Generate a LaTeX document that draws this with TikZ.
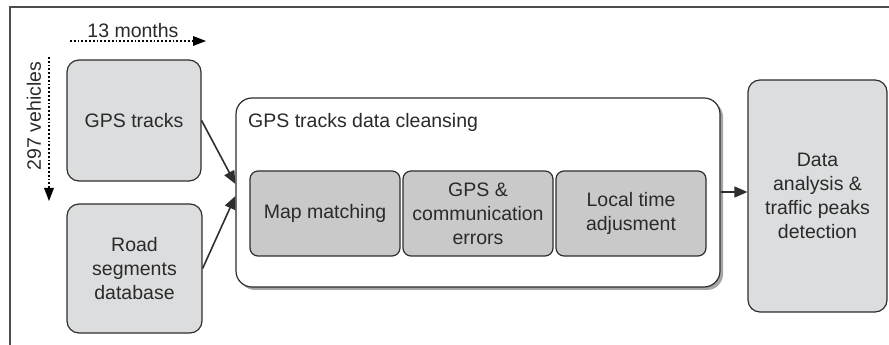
\documentclass[tikz,border=0pt]{standalone}
\usepackage{fontspec}
\setmainfont{Liberation Sans}
\usetikzlibrary{arrows.meta,calc,shadows}
\definecolor{lightbox}{HTML}{DCDDDE}
\definecolor{darkbox}{HTML}{C9C9CA}
\definecolor{edge}{HTML}{2E2E2E}
\definecolor{textc}{HTML}{2A2A2A}
\begin{document}
\begin{tikzpicture}[x=1pt,y=1pt,
  font=\fontsize{19.5}{24}\selectfont,
  outerbox/.style={draw=edge, line width=1.2pt, fill=lightbox, rounded corners=12pt, align=center, text=textc, inner sep=2pt},
  innerbox/.style={draw=edge, line width=1.2pt, fill=darkbox, rounded corners=8pt, align=center, text=textc, inner sep=2pt, minimum height=85pt, minimum width=150pt},
  bigbox/.style={draw=edge, line width=1.2pt, fill=white, rounded corners=16pt, drop shadow={shadow xshift=3pt, shadow yshift=-3pt, fill=gray!70, opacity=1}},
  conn/.style={draw=edge, line width=1.6pt, -{Triangle[length=13pt,width=11pt]}},
  dotarrow/.style={draw=black, line width=1.8pt, dotted, -{Triangle[length=13pt,width=10pt,line width=0pt]}},
  lbl/.style={text=textc, inner sep=0pt}]
\useasboundingbox (0,0) rectangle (889,345);
% frame
\draw[draw=black!70, line width=1.6pt] (10,0) -- (10,338) -- (889,338);
% boxes
\node[outerbox, minimum width=134pt, minimum height=121pt] (gps) at (134,224.5) {GPS tracks};
\node[outerbox, minimum width=135pt, minimum height=129pt] (road) at (134.5,76.5) {Road\\segments\\database};
\node[bigbox, minimum width=484pt, minimum height=189pt] (clean) at (478,152.5) {};
\node[lbl, anchor=west] (title) at (248,223) {GPS tracks data cleansing};
\node[innerbox] (map) at (325,131.5) {Map matching};
\node[innerbox] (err) at (478,131.5) {GPS \&\\communication\\errors};
\node[innerbox] (local) at (631,131.5) {Local time\\adjusment};
\node[outerbox, minimum width=139pt, minimum height=232pt] (data) at (817.5,149) {Data\\analysis \&\\traffic peaks\\detection};
% connectors
\coordinate (in1) at ($(clean.west)+(0,8.5)$);
\coordinate (in2) at ($(clean.west)+(0,-3.5)$);
\draw[conn] (gps.east) -- (in1);
\draw[conn] (road.east) -- (in2);
\coordinate (out) at ($(clean.east)+(0,0.5)$);
\draw[conn] (out) -- (out -| data.west);
% dimension arrows
\node[lbl] (months) at (133,314) {13 months};
\coordinate (m1) at (70,304);
\coordinate (m2) at (206,304);
\draw[dotarrow] (m1) -- (m2);
\node[lbl, rotate=90] (veh) at (34,229) {297 vehicles};
\coordinate (v1) at (49,288);
\coordinate (v2) at (49,144);
\draw[dotarrow] (v1) -- (v2);
\end{tikzpicture}
\end{document}
